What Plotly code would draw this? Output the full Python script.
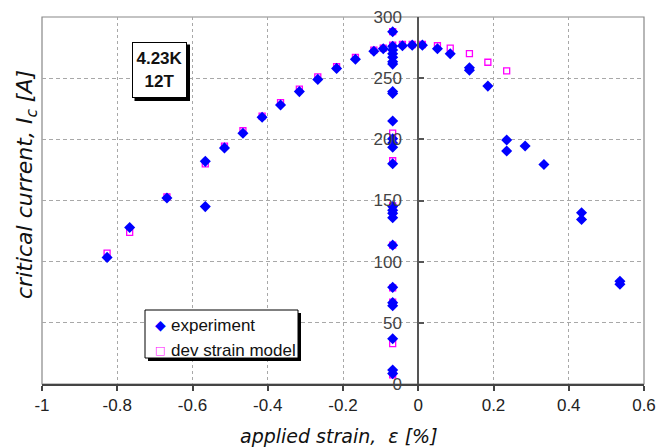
import plotly.graph_objects as go

# ---------------- data ----------------
exp_curve_x = [-0.827, -0.767, -0.668, -0.566, -0.566, -0.515, -0.466, -0.415, -0.366, -0.316,
               -0.267, -0.217, -0.167, -0.118, -0.093, -0.042, -0.016, 0.011, 0.051, 0.085,
               0.136, 0.136, 0.185, 0.235, 0.235, 0.284, 0.334, 0.434, 0.434, 0.536, 0.536]
exp_curve_y = [103.5, 128, 152, 145, 182, 193, 205, 218, 228, 239,
               249, 258, 265.5, 272, 274, 276.5, 277, 277, 274, 270,
               258.5, 256.5, 243.5, 199.5, 190.5, 194.5, 179.5, 140, 134.5, 84, 81.5]
exp_col_x = -0.068
exp_col_y = [288, 276, 273, 270, 267, 263.5, 261.5, 239, 237.5, 215, 200.5, 197, 193.5, 180,
             145, 142, 139.5, 136, 113.5, 79, 66.5, 64, 37, 11.5, 8.5]

mod_curve_x = [-0.827, -0.767, -0.668, -0.566, -0.515, -0.466, -0.415, -0.366, -0.316, -0.267,
               -0.217, -0.167, -0.118, -0.093, -0.042, -0.016, 0.011, 0.051, 0.085, 0.136,
               0.185, 0.235]
mod_curve_y = [107, 124, 153, 180, 194.5, 207, 219, 230, 241, 251,
               259.5, 267, 273, 274.5, 277.5, 277.5, 277.5, 276.5, 274.5, 270,
               263, 256]
mod_col_x = -0.068
mod_col_y = [288, 277, 205, 182.5, 145.5, 141, 113.5, 78.5, 67, 33, 7.5]

x_ticks = [-1, -0.8, -0.6, -0.4, -0.2, 0, 0.2, 0.4, 0.6]
x_tick_text = ["-1", "-0.8", "-0.6", "-0.4", "-0.2", "0", "0.2", "0.4", "0.6"]
y_ticks = [0, 50, 100, 150, 200, 250, 300]

series_names = ["experiment", "dev strain model"]

exp_x = exp_curve_x + [exp_col_x] * len(exp_col_y)
exp_y = exp_curve_y + exp_col_y
mod_x = mod_curve_x + [mod_col_x] * len(mod_col_y)
mod_y = mod_curve_y + mod_col_y

FONT = "Liberation Sans, Arial, sans-serif"
TFONT = "DejaVu Sans, sans-serif"
BLUE = "#0000FF"
MAGENTA = "#FF00FF"

fig = go.Figure()
fig.add_trace(go.Scatter(
    x=mod_x, y=mod_y, mode="markers", name=series_names[1], showlegend=False,
    marker=dict(symbol="square-open", size=6, color=MAGENTA, line=dict(width=1.3, color=MAGENTA)),
    cliponaxis=False,
))
fig.add_trace(go.Scatter(
    x=exp_x, y=exp_y, mode="markers", name=series_names[0], showlegend=False,
    marker=dict(symbol="diamond", size=8.5, color=BLUE, line=dict(width=0)),
    cliponaxis=False,
))

# plot area in px: left 42, right 644, top 17, bottom 384
W, H = 670, 447
L, R, T, B = 42, 644, 17, 384
pw, ph = R - L, B - T

def px2x(px):
    return (px - L) / pw

def py2y(py):
    return (B - py) / ph

GRID = "#a8a8a8"
fig.update_layout(
    width=W, height=H,
    margin=dict(l=L, r=W - R, t=T, b=H - B, pad=0, autoexpand=False),
    paper_bgcolor="white", plot_bgcolor="white",
    font=dict(family=FONT, size=17, color="#222"),
    showlegend=False,
    xaxis=dict(
        domain=[0, 1], range=[-1, 0.6], tickmode="array", tickvals=x_ticks, ticktext=x_tick_text,
        showgrid=True, gridcolor=GRID, griddash="3px,3px", gridwidth=1,
        zeroline=False, showline=True, linecolor="#444", linewidth=1.5,
        ticks="outside", ticklen=5, tickcolor="#444", tickwidth=1.5,
        tickfont=dict(size=17, color="#222"), automargin=False,
    ),
    yaxis=dict(
        domain=[0, 1], range=[0, 300], tickmode="array", tickvals=y_ticks,
        anchor="free", position=0.625,
        showgrid=True, gridcolor=GRID, griddash="4px,3px", gridwidth=1,
        zeroline=False, showline=True, linecolor="#555", linewidth=1.8,
        ticks="inside", ticklen=5, tickcolor="#555", tickwidth=1.5,
        tickfont=dict(size=17, color="#444"), ticklabelstandoff=12, automargin=False,
    ),
)

# border of plot area
fig.add_shape(type="rect", xref="paper", yref="paper", x0=0, x1=1, y0=0, y1=1,
              line=dict(color="#888", width=1.2), layer="below")

# axis titles
fig.add_annotation(xref="paper", yref="paper", x=px2x(339), y=py2y(436), xanchor="center", yanchor="middle",
                   text="<i>applied strain,  ε [%]</i>", showarrow=False,
                   font=dict(size=19, color="#111", family=TFONT))
fig.add_annotation(xref="paper", yref="paper", x=px2x(26), y=py2y(185), xanchor="center", yanchor="middle",
                   text="<i>critical current, I<sub>c</sub> [A]</i>", showarrow=False, textangle=-90,
                   font=dict(size=22, color="#111", family=TFONT))

# info box with shadow
fig.add_shape(type="rect", xref="paper", yref="paper",
              x0=px2x(134.5), x1=px2x(190), y0=py2y(101), y1=py2y(44.5),
              fillcolor="black", line=dict(width=0), layer="above")
fig.add_annotation(xref="paper", yref="paper", x=px2x(159), y=py2y(70), xanchor="center", yanchor="middle",
                   text="<b>4.23K<br>12T</b>", showarrow=False, width=53, height=54,
                   bgcolor="white", bordercolor="black", borderwidth=1, borderpad=0,
                   font=dict(size=17, color="#111", family=FONT))

# legend box (shadow + frame)
fig.add_shape(type="rect", xref="paper", yref="paper",
              x0=px2x(148), x1=px2x(301), y0=py2y(361), y1=py2y(313),
              fillcolor="black", line=dict(width=0), layer="above")
fig.add_shape(type="rect", xref="paper", yref="paper",
              x0=px2x(145), x1=px2x(298), y0=py2y(358), y1=py2y(310),
              fillcolor="white", line=dict(width=1, color="black"), layer="above")
legend_rows = [(series_names[0], "◆", BLUE, 325, 14), (series_names[1], "□", MAGENTA, 350, 11)]
for name, glyph, col, ypx, gsize in legend_rows:
    fig.add_annotation(xref="paper", yref="paper", x=px2x(160), y=py2y(ypx), xanchor="center", yanchor="middle",
                       text=glyph, showarrow=False, font=dict(size=gsize, color=col, family=TFONT))
    fig.add_annotation(xref="paper", yref="paper", x=px2x(169), y=py2y(ypx), xanchor="left", yanchor="middle",
                       text=name, showarrow=False, font=dict(size=17, color="#111", family=FONT))

fig.write_html("out.html", config={"displayModeBar": False},
               post_script="document.body.style.margin='0px';")
